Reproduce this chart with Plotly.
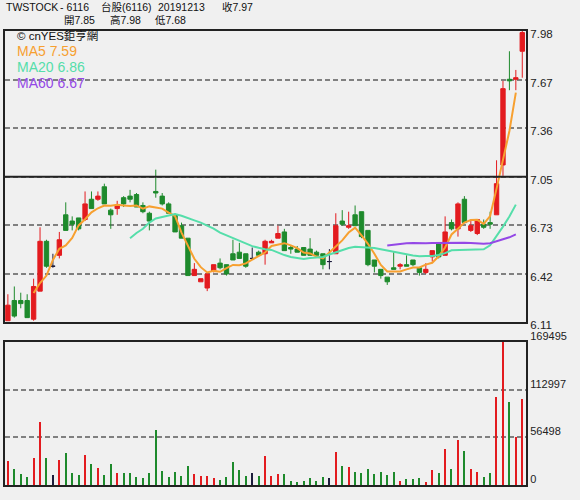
import plotly.graph_objects as go
import pandas as pd

# ---------------- data ----------------
opens = [6.12, 6.25, 6.25, 6.25, 6.13, 6.31, 6.63, 6.47, 6.54, 6.80,
         6.76, 6.78, 6.77, 6.90, 6.90, 6.98, 6.83, 6.84, 6.91, 6.92,
         6.93, 6.86, 6.81, 6.95, 6.92, 6.87, 6.80, 6.73, 6.65, 6.41,
         6.37, 6.33, 6.44, 6.49, 6.48, 6.55, 6.56, 6.55, 6.52, 6.56,
         6.55, 6.62, 6.65, 6.69, 6.59, 6.58, 6.59, 6.58, 6.56, 6.55,
         6.50, 6.55, 6.76, 6.72, 6.80, 6.82, 6.70, 6.51, 6.45, 6.40,
         6.46, 6.47, 6.48, 6.51, 6.46, 6.43, 6.53, 6.62, 6.54, 6.75,
         6.71, 6.90, 6.70, 6.68, 6.74, 6.75, 6.80, 7.12, 7.67, 7.67,
         7.85]
highs = [6.29, 6.34, 6.30, 6.29, 6.39, 6.72, 6.64, 6.55, 6.69, 6.88,
         6.79, 6.78, 6.95, 6.95, 6.95, 7.00, 6.84, 6.89, 6.92, 6.96,
         6.94, 6.88, 6.82, 7.09, 6.94, 6.88, 6.81, 6.75, 6.65, 6.49,
         6.39, 6.43, 6.48, 6.52, 6.48, 6.64, 6.62, 6.55, 6.59, 6.57,
         6.64, 6.64, 6.73, 6.71, 6.60, 6.60, 6.59, 6.65, 6.57, 6.55,
         6.58, 6.81, 6.83, 6.82, 6.86, 6.82, 6.70, 6.51, 6.45, 6.40,
         6.56, 6.49, 6.54, 6.51, 6.46, 6.49, 6.57, 6.62, 6.79, 6.77,
         6.88, 6.92, 6.77, 6.77, 6.77, 6.82, 7.15, 7.66, 7.85, 7.73,
         7.98]
lows = [6.12, 6.14, 6.20, 6.14, 6.12, 6.31, 6.46, 6.46, 6.52, 6.70,
        6.70, 6.70, 6.76, 6.84, 6.89, 6.87, 6.71, 6.80, 6.85, 6.88,
        6.85, 6.81, 6.70, 6.91, 6.86, 6.81, 6.69, 6.65, 6.41, 6.41,
        6.37, 6.31, 6.43, 6.45, 6.41, 6.51, 6.52, 6.46, 6.51, 6.54,
        6.48, 6.62, 6.65, 6.57, 6.55, 6.56, 6.54, 6.54, 6.53, 6.45,
        6.45, 6.55, 6.73, 6.71, 6.73, 6.65, 6.47, 6.43, 6.39, 6.35,
        6.45, 6.45, 6.47, 6.47, 6.41, 6.42, 6.50, 6.52, 6.54, 6.70,
        6.66, 6.75, 6.69, 6.67, 6.71, 6.71, 6.80, 7.05, 7.60, 7.60,
        7.68]
closes = [6.22, 6.15, 6.23, 6.14, 6.34, 6.63, 6.47, 6.47, 6.64, 6.70,
          6.74, 6.71, 6.87, 6.84, 6.92, 6.87, 6.80, 6.86, 6.87, 6.90,
          6.85, 6.82, 6.76, 6.94, 6.87, 6.81, 6.69, 6.65, 6.41, 6.45,
          6.39, 6.42, 6.48, 6.46, 6.42, 6.51, 6.52, 6.47, 6.52, 6.54,
          6.63, 6.63, 6.68, 6.57, 6.58, 6.56, 6.54, 6.54, 6.54, 6.48,
          6.50, 6.73, 6.74, 6.73, 6.73, 6.66, 6.48, 6.47, 6.41, 6.37,
          6.45, 6.48, 6.47, 6.48, 6.43, 6.45, 6.57, 6.53, 6.69, 6.71,
          6.87, 6.75, 6.73, 6.77, 6.72, 6.74, 7.00, 7.61, 7.66, 7.68,
          7.97]
volumes = [29000, 19500, 13100, 9900, 32600, 74900, 32600, 11900, 29900, 37800,
           14000, 12300, 35800, 25100, 20700, 11900, 25100, 14000, 14000, 14700,
           9200, 8700, 14000, 64800, 17100, 9900, 15500, 11100, 23000, 13100,
           10700, 10700, 8000, 6000, 9200, 27100, 17900, 10700, 14000, 11100,
           33800, 10700, 13100, 12800, 5100, 3900, 5100, 8000, 5100, 9900,
           8700, 38600, 23000, 21100, 15900, 14000, 19500, 12800, 15200, 11600,
           15200, 5100, 7200, 6800, 8700, 3900, 17900, 14000, 42600, 18700,
           53700, 39800, 18700, 15900, 9200, 14000, 104200, 169495, 98300, 57000,
           101500]

price_ticks = [6.11, 6.421667, 6.733333, 7.045, 7.356667, 7.668333, 7.98]
price_ticktext = ["6.11", "6.42", "6.73", "7.05", "7.36", "7.67", "7.98"]
vol_ticks = [0, 56498, 112997, 169495]
vol_ticktext = ["0", "56498", "112997", "169495"]

ma_periods = [5, 20, 60]
ma_labels = ["MA5 7.59", "MA20 6.86", "MA60 6.67"]

header_line1 = ["TWSTOCK", "- 6116", "台股(6116)", "20191213", "收7.97"]
header_line2 = ["開7.85", "高7.98", "低7.68"]
copyright_text = "© cnYES鉅亨網"

# ---------------- styling ----------------
RED = "#e31b1f"
GREEN = "#1e8a2c"
FLAT = "#1c1c3c"
MA_COLORS = ["#f7a030", "#55deaa", "#9448e6"]
BG = "#f0f0f0"
FONT = "Liberation Sans, Arial, Noto Sans CJK TC, sans-serif"

W, H = 580, 500
ML, MR, MT, MB = 5, 54, 31, 15
PW, PH = W - ML - MR, H - MT - MB


def px(xp):
    return (xp - ML) / PW


def py(yp):
    return (H - MB - yp) / PH


n = len(closes)
idx = list(range(n))

up = [i for i in idx if closes[i] > opens[i]]
dn = [i for i in idx if closes[i] < opens[i]]
fl = [i for i in idx if closes[i] == opens[i]]

fig = go.Figure()


def add_candles(sel, color):
    fig.add_trace(go.Candlestick(
        x=sel,
        open=[opens[i] for i in sel],
        high=[highs[i] for i in sel],
        low=[lows[i] for i in sel],
        close=[closes[i] for i in sel],
        increasing=dict(line=dict(color=color, width=1), fillcolor=color),
        decreasing=dict(line=dict(color=color, width=1), fillcolor=color),
        whiskerwidth=0,
        xaxis="x", yaxis="y", showlegend=False, hoverinfo="skip",
    ))


add_candles(up, RED)
add_candles(dn, GREEN)
add_candles(fl, FLAT)

# moving averages (drawn one slot to the left, as in the reference chart)
cs = pd.Series(closes)
for p, col in zip(ma_periods, MA_COLORS):
    ma = cs.rolling(p).mean()
    ks = [k for k in idx if k >= p]
    fig.add_trace(go.Scatter(
        x=[k - 1 for k in ks], y=[ma[k] for k in ks],
        mode="lines", line=dict(color=col, width=2),
        xaxis="x", yaxis="y", showlegend=False, hoverinfo="skip",
    ))

vol_colors = [RED if closes[i] > opens[i] else (GREEN if closes[i] < opens[i] else FLAT) for i in idx]
fig.add_trace(go.Bar(
    x=idx, y=volumes, width=0.18,
    marker=dict(color=vol_colors, line=dict(width=0)),
    xaxis="x2", yaxis="y2", showlegend=False, hoverinfo="skip",
))

xr = [-0.45, 80.58]
axis_common = dict(showline=True, mirror=True, linecolor="#222", linewidth=2,
                   zeroline=False)
fig.update_layout(
    width=W, height=H, autosize=False,
    margin=dict(l=ML, r=MR, t=MT, b=MB, pad=0, autoexpand=False),
    paper_bgcolor=BG, plot_bgcolor=BG,
    font=dict(family=FONT, color="#222", size=11),
    boxgap=0.32, boxgroupgap=0,
    bargap=0,
    xaxis=dict(domain=[0, 1], range=xr, anchor="y", showticklabels=False,
               showgrid=False, rangeslider=dict(visible=False), ticks="",
               **axis_common),
    xaxis2=dict(domain=[0, 1], range=xr, anchor="y2", showticklabels=False,
                showgrid=False, rangeslider=dict(visible=False), ticks="",
                **axis_common),
    yaxis=dict(domain=[py(322.3), 1], range=[price_ticks[0], price_ticks[-1]],
               anchor="x", side="right", tickmode="array",
               tickvals=price_ticks, ticktext=price_ticktext,
               showgrid=True, gridcolor="#808080", gridwidth=2, griddash="5px,3px",
               ticks="", ticklen=0, ticklabelstandoff=0, ticklabelshift=3,
               tickfont=dict(size=11.5, color="#222"), **axis_common),
    yaxis2=dict(domain=[0, py(342)], range=[vol_ticks[0], vol_ticks[-1]],
                anchor="x2", side="right", tickmode="array",
                tickvals=vol_ticks, ticktext=vol_ticktext,
                showgrid=True, gridcolor="#808080", gridwidth=2, griddash="5px,3px",
                ticks="", ticklen=0, ticklabelstandoff=0, ticklabelshift=-6,
                tickfont=dict(size=11, color="#222"), **axis_common),
    shapes=[dict(type="line", xref="x domain", yref="y", x0=0, x1=1,
                 y0=price_ticks[3], y1=price_ticks[3],
                 line=dict(color="#222", width=2), layer="above")],
)

ann = []
h1_x = [5, 59, 100, 156.5, 220.5]
for t, xp in zip(header_line1, h1_x):
    ann.append(dict(text=t, x=px(xp), y=py(7.5), xref="paper", yref="paper",
                    xanchor="left", yanchor="middle", showarrow=False, borderpad=0,
                    font=dict(size=10.5, color="#111")))
h2_x = [62.5, 109, 154]
for t, xp in zip(header_line2, h2_x):
    ann.append(dict(text=t, x=px(xp), y=py(20), xref="paper", yref="paper",
                    xanchor="left", yanchor="middle", showarrow=False, borderpad=0,
                    font=dict(size=10.5, color="#111")))
ann.append(dict(text=copyright_text, x=px(16), y=py(36), xref="paper", yref="paper",
                xanchor="left", yanchor="middle", showarrow=False, borderpad=0,
                font=dict(size=11.5, color="#111")))
for k, (t, col) in enumerate(zip(ma_labels, MA_COLORS)):
    ann.append(dict(text=t, x=px(16), y=py(51 + 16 * k), xref="paper", yref="paper",
                    xanchor="left", yanchor="middle", showarrow=False, borderpad=0,
                    font=dict(size=14, color=col)))
fig.update_layout(annotations=ann)

fig.write_html("out.html",
               config={"displayModeBar": False},
               post_script="document.body.style.margin='0';"
                           "document.body.style.overflow='hidden';")
